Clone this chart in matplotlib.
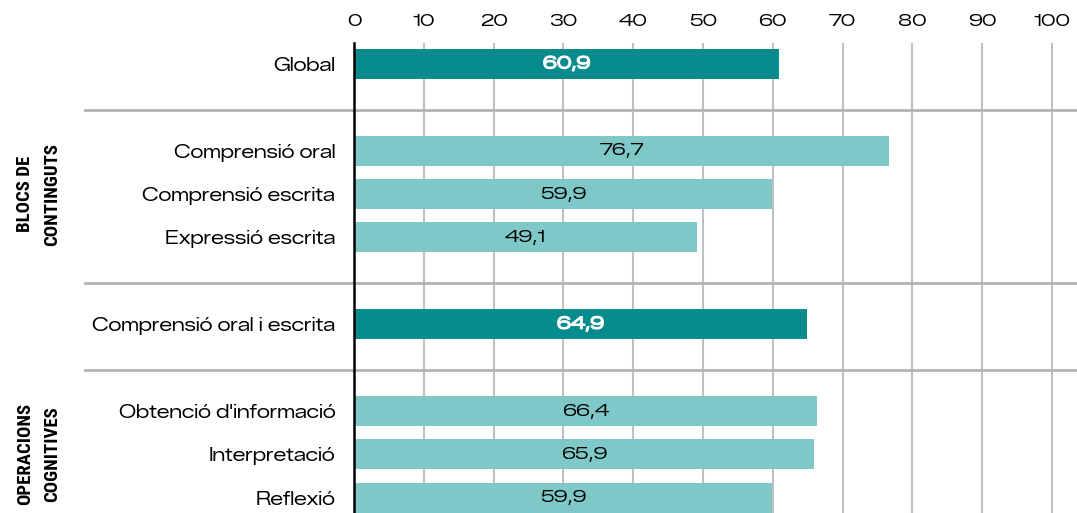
import matplotlib
matplotlib.use("Agg")
import matplotlib.pyplot as plt
import matplotlib.patheffects as pe
from matplotlib.transforms import blended_transform_factory

categories = ["Global", "Comprensió oral", "Comprensió escrita", "Expressió escrita",
              "Comprensió oral i escrita", "Obtenció d'informació", "Interpretació", "Reflexió"]
values = [60.9, 76.7, 59.9, 49.1, 64.9, 66.4, 65.9, 59.9]
highlight = [True, False, False, False, True, False, False, False]
rows = [0, 2, 3, 4, 6, 8, 9, 10]
separators = [1.07, 5.05, 7.05]
groups = ["BLOCS DE\nCONTINGUTS", "OPERACIONS\nCOGNITIVES"]
group_rows = [3, 9]
xticks = list(range(0, 101, 10))

DARK = "#068c8c"
LIGHT = "#7fc8c8"
GRID = "#c0c0c0"
SEP = "#b3b3b3"

fig = plt.figure(figsize=(10.77, 5.13), dpi=100)
ax = fig.add_axes([354/1077, 0.0, 1 - 354/1077, 1 - 43/513])

font = ["Zalando Sans Expanded", "DejaVu Sans"]
fs = 12.8

colors = [DARK if h else LIGHT for h in highlight]
ax.barh(rows, values, height=0.69, color=colors, zorder=3)
for r, v, h in zip(rows, values, highlight):
    t = ax.text(v / 2, r, f"{v:.1f}".replace(".", ","), ha="center", va="center",
                color="white" if h else "black", fontsize=fs - 0.6, family=font, zorder=4)
    if h:
        t.set_path_effects([pe.withStroke(linewidth=0.9, foreground="white")])

ax.set_xlim(0, (1077 - 354) / 6.98)
ax.set_ylim(10.35, -0.48)
ax.set_xticks(xticks)
ax.set_xticklabels([str(t) for t in xticks], fontsize=fs - 0.6, family=font)
ax.xaxis.tick_top()
ax.tick_params(axis="x", length=0, pad=10)
ax.set_yticks(rows)
ax.set_yticklabels(categories, fontsize=fs, family=font)
ax.tick_params(axis="y", length=0, pad=13.5)

for t in xticks:
    ax.axvline(t, color=GRID, lw=1.5, zorder=1)

for s in ["top", "right", "bottom"]:
    ax.spines[s].set_visible(False)
ax.spines["left"].set_color("black")
ax.spines["left"].set_linewidth(1.8)
ax.spines["left"].set_zorder(5)

trans = blended_transform_factory(fig.transFigure, ax.transData)
for s in separators:
    ax.plot([85/1077, 1.0], [s, s], transform=trans, color=SEP, lw=2, clip_on=False, zorder=2)

for g, gr in zip(groups, group_rows):
    fig.text(39/1077, gr, g, transform=trans, rotation=90, ha="center", va="center",
             fontsize=13.5, fontweight="bold", family=["Roboto Condensed", "DejaVu Sans"],
             linespacing=1.65, ma="center")

fig.savefig("out.png", dpi=100)
